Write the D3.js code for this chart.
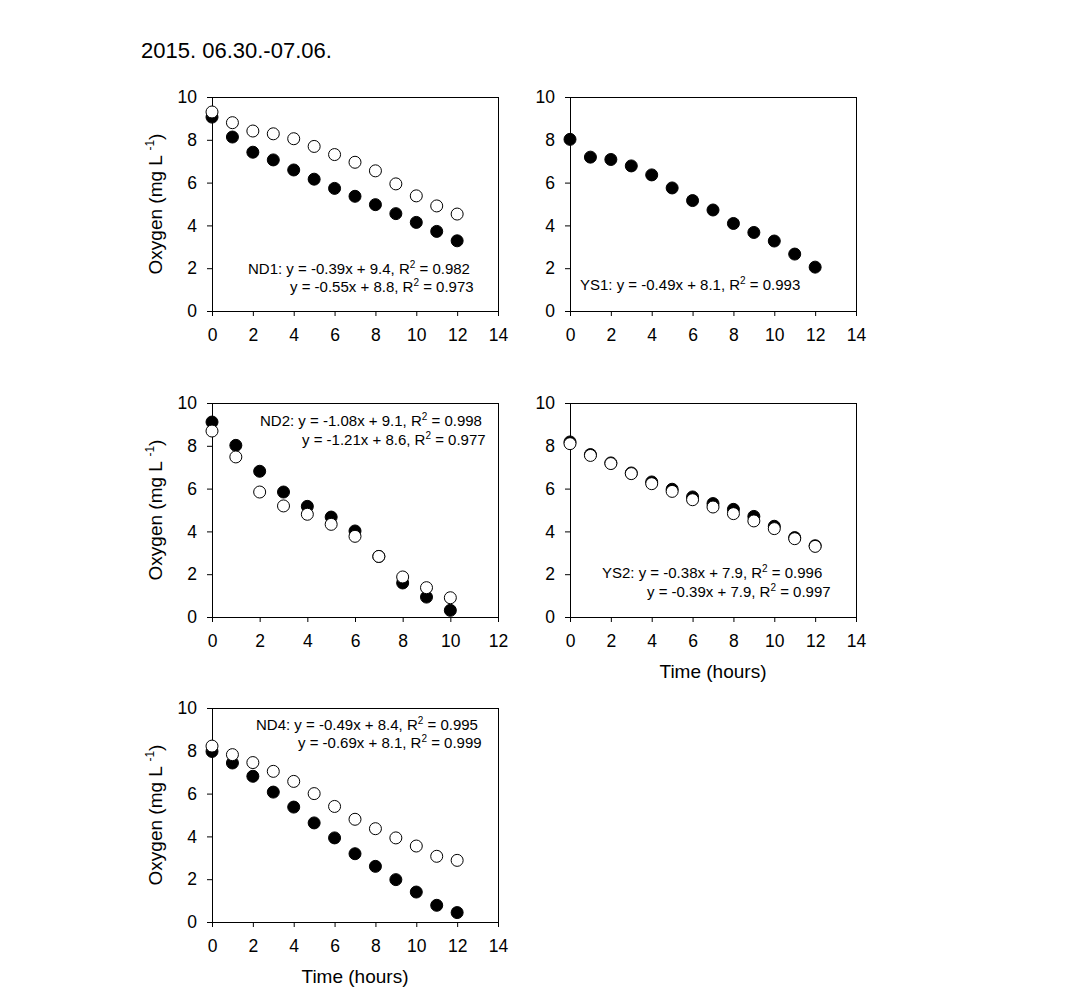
<!DOCTYPE html>
<html>
<head>
<meta charset="utf-8">
<script src="https://cdn.jsdelivr.net/npm/d3@7"></script>
<style>
  html, body { margin: 0; padding: 0; background: #fff; }
  svg { display: block; font-family: Arial, "Liberation Sans", sans-serif; }
</style>
</head>
<body>
<svg id="chart" width="1088" height="1005"></svg>
<script>
// ---------------- data ----------------
const title = "2015. 06.30.-07.06.";
const hours12 = [0, 1, 2, 3, 4, 5, 6, 7, 8, 9, 10, 11, 12];
const hours10 = [0, 1, 2, 3, 4, 5, 6, 7, 8, 9, 10];

const nd1Filled = [9.06, 8.13, 7.42, 7.06, 6.59, 6.16, 5.73, 5.36, 4.97, 4.55, 4.14, 3.72, 3.28];
const nd1Open   = [9.30, 8.80, 8.41, 8.28, 8.05, 7.69, 7.31, 6.95, 6.55, 5.94, 5.38, 4.91, 4.53];

const ys1Filled = [8.02, 7.19, 7.08, 6.78, 6.36, 5.75, 5.16, 4.72, 4.09, 3.67, 3.27, 2.66, 2.05];

const nd2Filled = [9.11, 8.02, 6.81, 5.84, 5.17, 4.67, 4.02, 2.83, 1.59, 0.93, 0.31];
const nd2Open   = [8.69, 7.48, 5.84, 5.19, 4.80, 4.33, 3.77, 2.83, 1.87, 1.37, 0.90];

const ys2Filled = [8.18, 7.59, 7.20, 6.73, 6.31, 5.97, 5.61, 5.30, 5.03, 4.70, 4.24, 3.71, 3.33];
const ys2Open   = [8.10, 7.55, 7.17, 6.70, 6.23, 5.87, 5.48, 5.14, 4.83, 4.49, 4.13, 3.66, 3.30];

const nd4Filled = [7.97, 7.43, 6.81, 6.07, 5.37, 4.63, 3.93, 3.19, 2.60, 1.98, 1.40, 0.78, 0.44];
const nd4Open   = [8.22, 7.82, 7.45, 7.04, 6.57, 6.00, 5.40, 4.80, 4.36, 3.93, 3.55, 3.07, 2.88];

const yTicks = [0, 2, 4, 6, 8, 10];
const xTicks14 = [0, 2, 4, 6, 8, 10, 12, 14];
const xTicks12 = [0, 2, 4, 6, 8, 10, 12];

// regression annotation lines: [prefix, equation, R² value]
const nd1Eq = [["ND1: ", "y = -0.39x + 9.4, R", "0.982"], ["", "y = -0.55x + 8.8, R", "0.973"]];
const ys1Eq = [["YS1: ", "y = -0.49x + 8.1, R", "0.993"]];
const nd2Eq = [["ND2: ", "y = -1.08x + 9.1, R", "0.998"], ["", "y = -1.21x + 8.6, R", "0.977"]];
const ys2Eq = [["YS2: ", "y = -0.38x + 7.9, R", "0.996"], ["", "y = -0.39x + 7.9, R", "0.997"]];
const nd4Eq = [["ND4: ", "y = -0.49x + 8.4, R", "0.995"], ["", "y = -0.69x + 8.1, R", "0.999"]];

const yLabel = "Oxygen (mg L";
const xLabel = "Time (hours)";

// ---------------- layout ----------------
const W = 286, H = 214;
const panels = [
  { left: 212, top: 97,  xMax: 14, xt: xTicks14, hours: hours12, filled: nd1Filled, open: nd1Open, eq: nd1Eq, eqPos: [[36, 177], [78, 195]], yTitle: true,  xTitle: false },
  { left: 570, top: 97,  xMax: 14, xt: xTicks14, hours: hours12, filled: ys1Filled, open: null,    eq: ys1Eq, eqPos: [[10, 193]],            yTitle: false, xTitle: false },
  { left: 212, top: 403, xMax: 12, xt: xTicks12, hours: hours10, filled: nd2Filled, open: nd2Open, eq: nd2Eq, eqPos: [[48, 23], [90, 42]],   yTitle: true,  xTitle: false },
  { left: 570, top: 403, xMax: 14, xt: xTicks14, hours: hours12, filled: ys2Filled, open: ys2Open, eq: ys2Eq, eqPos: [[32, 175], [77, 194]], yTitle: false, xTitle: true },
  { left: 212, top: 708, xMax: 14, xt: xTicks14, hours: hours12, filled: nd4Filled, open: nd4Open, eq: nd4Eq, eqPos: [[44, 22], [86, 40]],   yTitle: true,  xTitle: true }
];

const svg = d3.select("#chart");
const tickFont = 17.5, titleFont = 19, eqFont = 15, R = 6;

svg.append("text")
  .attr("x", 141).attr("y", 58)
  .attr("font-size", 22)
  .attr("fill", "#000")
  .text(title);

panels.forEach(p => {
  const g = svg.append("g").attr("transform", `translate(${p.left},${p.top})`);
  const x = d3.scaleLinear().domain([0, p.xMax]).range([0, W]);
  const y = d3.scaleLinear().domain([0, 10]).range([H, 0]);

  // axes
  const xa = g.append("g").attr("transform", `translate(0,${H})`)
    .call(d3.axisBottom(x).tickValues(p.xt).tickSize(5).tickSizeOuter(0).tickFormat(d3.format("d")));
  xa.select(".domain").remove();
  xa.selectAll("text").attr("y", 30).attr("dy", null).attr("font-size", tickFont).attr("font-family", null).attr("fill", "#000");
  xa.selectAll("line").attr("stroke", "#000");

  const ya = g.append("g")
    .call(d3.axisLeft(y).tickValues(yTicks).tickSize(5).tickPadding(10).tickSizeOuter(0).tickFormat(d3.format("d")));
  ya.select(".domain").remove();
  ya.selectAll("text").attr("font-size", tickFont).attr("font-family", null).attr("fill", "#000");
  ya.selectAll("line").attr("stroke", "#000");

  // frame
  g.append("rect")
    .attr("x", 0.5).attr("y", 0.5).attr("width", W).attr("height", H)
    .attr("fill", "none").attr("stroke", "#000").attr("stroke-width", 1);

  // filled series
  g.append("g").selectAll("circle")
    .data(p.filled.map((v, i) => [p.hours[i], v]))
    .join("circle")
    .attr("cx", d => x(d[0])).attr("cy", d => y(d[1])).attr("r", R)
    .attr("fill", "#000").attr("stroke", "#000").attr("stroke-width", 1);

  // open series on top
  if (p.open) {
    g.append("g").selectAll("circle")
      .data(p.open.map((v, i) => [p.hours[i], v]))
      .join("circle")
      .attr("cx", d => x(d[0])).attr("cy", d => y(d[1])).attr("r", R)
      .attr("fill", "#fff").attr("stroke", "#000").attr("stroke-width", 1);
  }

  // equations
  p.eq.forEach((line, i) => {
    const t = g.append("text")
      .attr("x", p.eqPos[i][0]).attr("y", p.eqPos[i][1])
      .attr("font-size", eqFont).attr("fill", "#000");
    t.append("tspan").text(line[0] + line[1]);
    t.append("tspan").attr("font-size", 10).attr("dy", -6).text("2");
    t.append("tspan").attr("dy", 6).text(" = " + line[2]);
  });

  if (p.yTitle) {
    const t = g.append("text")
      .attr("transform", `translate(${-50},${H / 2}) rotate(-90)`)
      .attr("text-anchor", "middle")
      .attr("font-size", titleFont).attr("fill", "#000");
    t.append("tspan").text(yLabel + " ");
    t.append("tspan").attr("font-size", 12).attr("dy", -8).text("-1");
    t.append("tspan").attr("dy", 8).text(")");
  }
  if (p.xTitle) {
    g.append("text")
      .attr("x", W / 2).attr("y", H + 61)
      .attr("text-anchor", "middle")
      .attr("font-size", titleFont).attr("fill", "#000")
      .text(xLabel);
  }
});
</script>
</body>
</html>
